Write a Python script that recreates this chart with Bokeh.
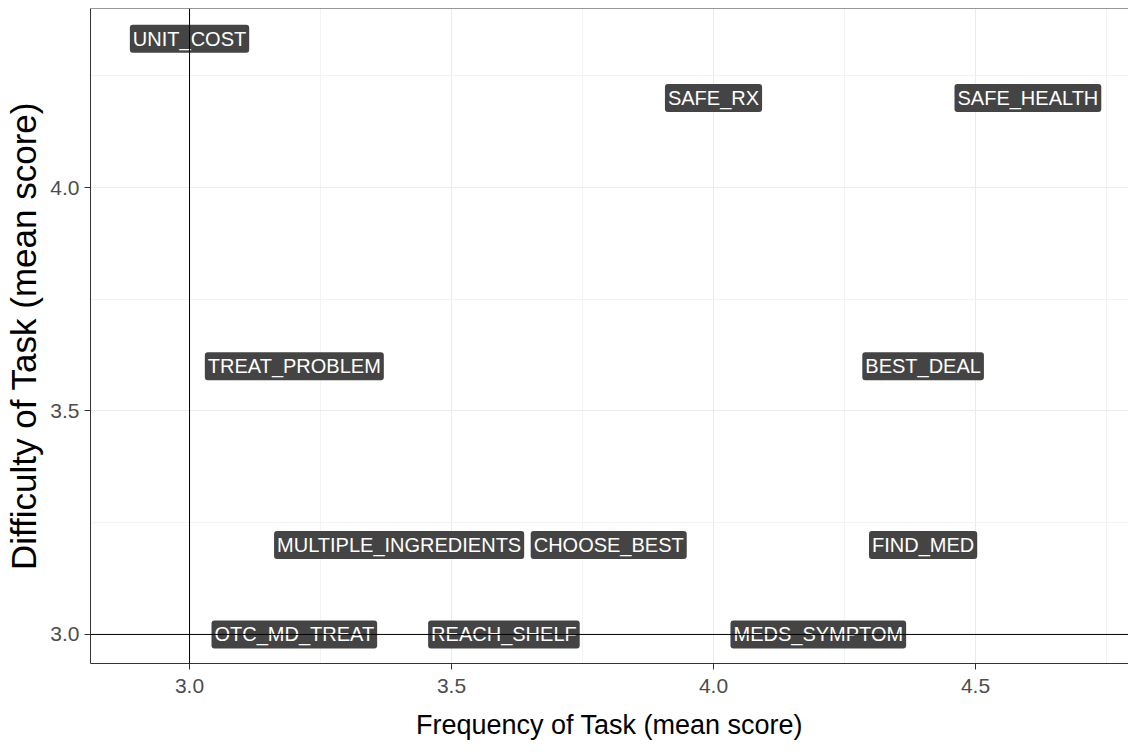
from bokeh.plotting import figure
from bokeh.models import Range1d, FixedTicker, Span, ColumnDataSource
from bokeh.core.properties import value
from bokeh.embed import file_html
from bokeh.resources import INLINE

tasks = ["UNIT_COST", "SAFE_RX", "SAFE_HEALTH", "TREAT_PROBLEM", "BEST_DEAL",
         "MULTIPLE_INGREDIENTS", "CHOOSE_BEST", "FIND_MED", "OTC_MD_TREAT",
         "REACH_SHELF", "MEDS_SYMPTOM"]
frequency = [3.0, 4.0, 4.6, 3.2, 4.4, 3.4, 3.8, 4.4, 3.2, 3.6, 4.2]
difficulty = [4.333, 4.2, 4.2, 3.6, 3.6, 3.2, 3.2, 3.2, 3.0, 3.0, 3.0]
x_ticks = [3.0, 3.5, 4.0, 4.5]
y_ticks = [3.0, 3.5, 4.0]
x_minor = [2.75, 3.25, 3.75, 4.25, 4.75]
y_minor = [3.25, 3.75, 4.25]

src = ColumnDataSource(dict(x=frequency, y=difficulty, label=tasks))

Y_END = 4.4005
p = figure(width=1128, height=754, output_backend="svg", toolbar_location=None,
           x_range=Range1d(2.811, 4.792), y_range=Range1d(2.935, Y_END),
           min_border_left=90, min_border_right=0, min_border_top=8,
           min_border_bottom=91)
p.background_fill_color = "white"
p.border_fill_color = "white"
p.outline_line_color = None

p.xaxis.ticker = FixedTicker(ticks=x_ticks, minor_ticks=x_minor)
p.yaxis.ticker = FixedTicker(ticks=y_ticks, minor_ticks=y_minor)
p.xaxis.major_label_overrides = {3.0: "3.0", 3.5: "3.5", 4.0: "4.0", 4.5: "4.5"}
p.yaxis.major_label_overrides = {3.0: "3.0", 3.5: "3.5", 4.0: "4.0"}

for ax in (p.xaxis, p.yaxis):
    ax.axis_line_color = "#333333"
    ax.axis_line_width = 1
    ax.major_tick_line_color = "#333333"
    ax.major_tick_in = 0
    ax.major_tick_out = 6
    ax.minor_tick_line_color = None
    ax.major_label_text_font = "Liberation Sans"
    ax.major_label_text_font_size = "21px"
    ax.major_label_text_color = "#4d4d4d"
    ax.axis_label_text_font = "Liberation Sans"
    ax.axis_label_text_font_style = "normal"
    ax.axis_label_text_color = "black"

p.xaxis.axis_label = "Frequency of Task (mean score)"
p.yaxis.axis_label = "Difficulty of Task (mean score)"
p.xaxis.axis_label_text_font_size = "27px"
p.yaxis.axis_label_text_font_size = "35px"
p.xaxis.major_label_standoff = 9
p.xaxis.axis_label_standoff = 14
p.yaxis.major_label_standoff = 5
p.yaxis.axis_label_standoff = 4

for g in (p.xgrid, p.ygrid):
    g.grid_line_color = "#ebebeb"
    g.grid_line_width = 1
    g.minor_grid_line_color = "#f3f3f3"
    g.minor_grid_line_width = 1

# top panel border
p.add_layout(Span(location=Y_END, dimension="width", line_color="#333333", line_width=1))
# reference lines
p.add_layout(Span(location=3.0, dimension="height", line_color="black", line_width=1))
p.add_layout(Span(location=3.0, dimension="width", line_color="black", line_width=1))

p.text(x="x", y="y", text="label", source=src,
       text_font=value("Liberation Sans"), text_font_size="20px",
       text_color="white", text_align="center", text_baseline="middle",
       background_fill_color="#444444", padding=(3, 3), border_radius=3)

open("out.html", "w").write(file_html(p, INLINE))
